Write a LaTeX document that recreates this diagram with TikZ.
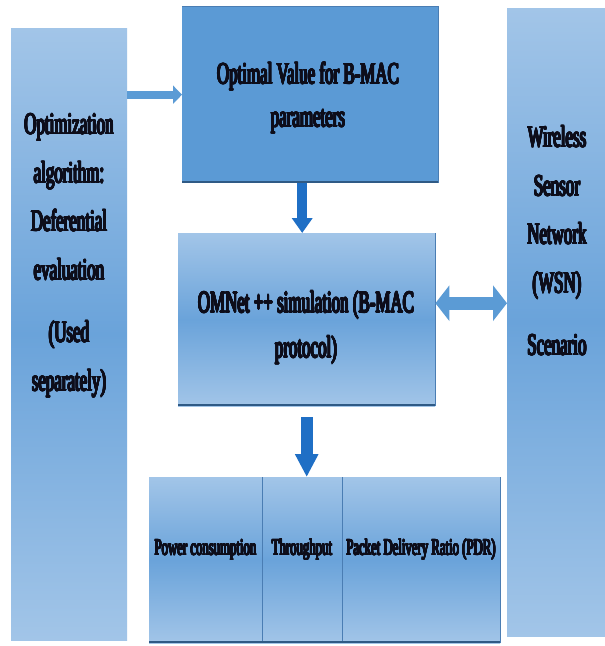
\documentclass[tikz,border=0pt]{standalone}
\usepackage{fontspec}
\usepackage{contour}
\setmainfont{Liberation Serif}
\newfontfamily\boldnarrow{Liberation Serif}[FakeStretch=0.555]
\usetikzlibrary{arrows.meta,calc}

\definecolor{paleblue}{HTML}{A2C5E8}
\definecolor{midblue}{HTML}{6AA3DA}
\definecolor{solidblue}{HTML}{5B9AD5}
\definecolor{edgeblue}{HTML}{2F5A85}
\definecolor{rimblue}{HTML}{4A7DB3}
\definecolor{arrowblue}{HTML}{1F6FC5}
\definecolor{lightarrow}{HTML}{5B9BD5}
\definecolor{ink}{HTML}{0D0D1A}

% heavy strokes: each line is overprinted with a thin ring of copies
\contournumber{16}
\newcommand{\hv}[1]{\contourlength{0.6pt}\contour{ink}{#1}}
\newcommand{\hvs}[1]{\contourlength{0.45pt}\contour{ink}{#1}}

\begin{document}
\begin{tikzpicture}[x=1pt,y=-1pt,
  panel/.style={draw=none, inner sep=0pt, anchor=north west,
    top color=paleblue, bottom color=paleblue, middle color=midblue},
  flatpanel/.style={draw=none, inner sep=0pt, anchor=north west, fill=solidblue},
  label/.style={inner sep=0pt, align=center, text=ink,
    font=\boldnarrow\fontsize{30.5}{48.5}\selectfont},
  cell/.style={inner sep=0pt, text=ink, anchor=base,
    font=\boldnarrow\fontsize{23}{28}\selectfont},
  shadowedge/.style={edgeblue, line width=2.5pt},
  thinedge/.style={rimblue, line width=0.8pt},
]
\useasboundingbox[fill=white] (0,0) rectangle (605,646);

% side panels
\node[panel, minimum width=116pt, minimum height=612pt] (algo) at (11,28) {};
\node[panel, minimum width=98pt, minimum height=628pt] (wsn) at (507,8) {};

% central blocks
\node[flatpanel, minimum width=256pt, minimum height=177pt] (optval) at (182,6) {};
\node[panel, minimum width=257pt, minimum height=173pt] (omnet) at (178,233) {};

% metric cells
\node[panel, minimum width=113pt, minimum height=166pt] (power) at (149,477) {};
\node[panel, minimum width=80pt, minimum height=166pt] (thru) at (262,477) {};
\node[panel, minimum width=158pt, minimum height=166pt] (pdr) at (342,477) {};

% block edges
\draw[thinedge] (optval.north west) -- (optval.north east) -- (optval.south east);
\draw[shadowedge] ([yshift=1.25pt]optval.south west) -- ([yshift=1.25pt]optval.south east);
\draw[thinedge] (omnet.north east) -- (omnet.south east);
\draw[shadowedge] ([yshift=1.25pt]omnet.south west) -- ([yshift=1.25pt]omnet.south east);
\draw[thinedge] (power.north east) -- (power.south east);
\draw[thinedge] (thru.north east) -- (thru.south east);
\draw[thinedge] (pdr.north east) -- (pdr.south east);
\draw[shadowedge] ([yshift=1.25pt]power.south west) -- ([yshift=1.25pt]pdr.south east);

% texts
\node[label] (algotext) at (69,256) {\hv{Optimization}\\\hv{algorithm:}\\\hv{Deferential}\\\hv{evaluation}\\[14pt]\hv{(Used}\\\hv{separately)}};
\node[label] (wsntext) at (557,241) {\hv{Wireless}\\\hv{Sensor}\\\hv{Network}\\\hv{(WSN)}\\[14pt]\hv{Scenario}};
\node[label, font=\boldnarrow\fontsize{30.5}{43}\selectfont] (opttext) at (308,98) {\hv{Optimal Value for B-MAC}\\\hv{parameters}};
\node[label, font=\boldnarrow\fontsize{30.5}{45}\selectfont] (omnettext) at (306,328) {\hv{OMNet ++ simulation (B-MAC}\\\hv{protocol)}};
\node[cell] (powertext) at (205.5,555) {\hvs{Power consumption}};
\node[cell] (thrutext) at (302,555) {\hvs{Throughput}};
\node[cell] (pdrtext) at (421,555) {\hvs{Packet Delivery Ratio (PDR)}};

% connectors
\draw[lightarrow, line width=8pt, -{Triangle[length=9pt,width=18pt]}]
  (optval.west -| algo.east) -- (optval.west);
\draw[arrowblue, line width=10pt, -{Triangle[length=15pt,width=20pt]}]
  ([xshift=-8pt]optval.south) -- ([xshift=-8pt]optval.south |- omnet.north);
\draw[arrowblue, line width=12pt, -{Triangle[length=23pt,width=22pt]}]
  ([yshift=-11pt]omnet.south) -- (omnet.south |- thru.north);
\draw[lightarrow, line width=13pt, {Triangle[length=14pt,width=35pt]}-{Triangle[length=14pt,width=35pt]}]
  ([yshift=16.5pt]omnet.east) -- ([yshift=16.5pt]omnet.east -| wsn.west);
\end{tikzpicture}
\end{document}
